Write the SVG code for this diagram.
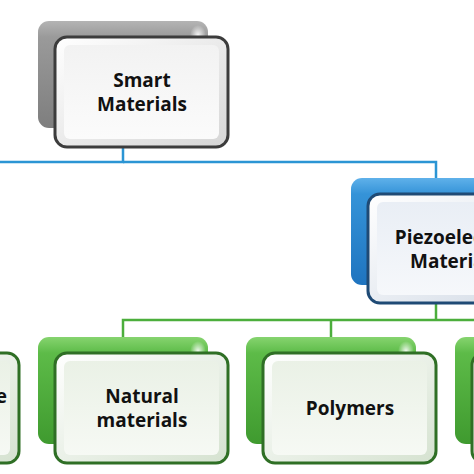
<svg xmlns="http://www.w3.org/2000/svg" width="474" height="474" viewBox="0 0 474 474">
<defs>
<linearGradient id="gGray" x1="0" y1="0" x2="0" y2="1"><stop offset="0" stop-color="#b4b4b4"/><stop offset="0.15" stop-color="#9a9a9a"/><stop offset="1" stop-color="#7e7e7e"/></linearGradient>
<linearGradient id="gBlue" x1="0" y1="0" x2="0" y2="1"><stop offset="0" stop-color="#5fb1ea"/><stop offset="0.15" stop-color="#3593d8"/><stop offset="1" stop-color="#1f74bf"/></linearGradient>
<linearGradient id="gGreen" x1="0" y1="0" x2="0" y2="1"><stop offset="0" stop-color="#86d46f"/><stop offset="0.15" stop-color="#5dbb48"/><stop offset="1" stop-color="#3f9a2f"/></linearGradient>
<linearGradient id="fGray" x1="0" y1="0" x2="1" y2="1"><stop offset="0" stop-color="#ffffff"/><stop offset="1" stop-color="#d6d6d6"/></linearGradient>
<linearGradient id="fBlue" x1="0" y1="0" x2="1" y2="1"><stop offset="0" stop-color="#ffffff"/><stop offset="1" stop-color="#d3dbe6"/></linearGradient>
<linearGradient id="fGreen" x1="0" y1="0" x2="1" y2="1"><stop offset="0" stop-color="#ffffff"/><stop offset="1" stop-color="#d5e2d0"/></linearGradient>
<linearGradient id="iGray" x1="0" y1="0" x2="0" y2="1"><stop offset="0" stop-color="#f2f2f2"/><stop offset="1" stop-color="#fbfbfb"/></linearGradient>
<linearGradient id="iBlue" x1="0" y1="0" x2="0" y2="1"><stop offset="0" stop-color="#e9eef5"/><stop offset="1" stop-color="#f6f8fb"/></linearGradient>
<linearGradient id="iGreen" x1="0" y1="0" x2="0" y2="1"><stop offset="0" stop-color="#eaf1e6"/><stop offset="1" stop-color="#f6f9f4"/></linearGradient>
<radialGradient id="glint" cx="0.5" cy="0.5" r="0.5"><stop offset="0" stop-color="#ffffff" stop-opacity="0.9"/><stop offset="1" stop-color="#ffffff" stop-opacity="0"/></radialGradient>
</defs>
<style>
.back{stroke:none}
.front{stroke-width:3}
.lbl{font-family:"Open Sans","Liberation Sans",sans-serif;font-weight:bold;font-size:19px;fill:#111;text-anchor:middle}
.blue{stroke:#2b95d4;stroke-width:2.5;fill:none}
.green{stroke:#4cae3c;stroke-width:2.5;fill:none}
</style>
<g id="connectors">
<polyline class="blue" points="123,147 123,162 0,162"/>
<polyline class="blue" points="123,162 436,162 436,179"/>
<polyline class="green" points="436,302 436,320"/>
<polyline class="green" points="123,338 123,320 474,320"/>
<polyline class="green" points="331,320 331,338"/>
</g>
<g id="node-smart" transform="translate(38,21)">
<rect class="back" x="0" y="0" width="170" height="107" rx="11" fill="url(#gGray)"/>
<ellipse cx="160" cy="14" rx="8" ry="10" fill="url(#glint)"/>
<rect class="front" x="17" y="16" width="173" height="110" rx="12" fill="url(#fGray)" stroke="#3c3c3c"/>
<rect x="26" y="24" width="155" height="94" rx="6" fill="url(#iGray)"/>
<text class="lbl" x="104" y="66">Smart</text>
<text class="lbl" x="104" y="90">Materials</text>
</g>
<g id="node-piezo" transform="translate(351,178)">
<rect class="back" x="0" y="0" width="170" height="107" rx="11" fill="url(#gBlue)"/>
<rect class="front" x="17" y="16" width="173" height="109" rx="12" fill="url(#fBlue)" stroke="#1f4a75"/>
<rect x="26" y="24" width="155" height="93" rx="6" fill="url(#iBlue)"/>
<text class="lbl" x="104" y="66">Piezoelectric</text>
<text class="lbl" x="104" y="90">Materials</text>
</g>
<g id="node-left" transform="translate(-171,337)">
<rect class="back" x="0" y="0" width="170" height="107" rx="11" fill="url(#gGreen)"/>
<rect class="front" x="17" y="16" width="173" height="110" rx="12" fill="url(#fGreen)" stroke="#2f6f25"/>
<rect x="26" y="24" width="155" height="94" rx="6" fill="url(#iGreen)"/>
<text class="lbl" x="178" y="66" style="text-anchor:end">e</text>
</g>
<g id="node-natural" transform="translate(38,337)">
<rect class="back" x="0" y="0" width="170" height="107" rx="11" fill="url(#gGreen)"/>
<ellipse cx="160" cy="14" rx="8" ry="10" fill="url(#glint)"/>
<rect class="front" x="17" y="16" width="173" height="110" rx="12" fill="url(#fGreen)" stroke="#2f6f25"/>
<rect x="26" y="24" width="155" height="94" rx="6" fill="url(#iGreen)"/>
<text class="lbl" x="104" y="66">Natural</text>
<text class="lbl" x="104" y="90">materials</text>
</g>
<g id="node-polymers" transform="translate(246,337)">
<rect class="back" x="0" y="0" width="170" height="107" rx="11" fill="url(#gGreen)"/>
<ellipse cx="160" cy="14" rx="8" ry="10" fill="url(#glint)"/>
<rect class="front" x="17" y="16" width="173" height="110" rx="12" fill="url(#fGreen)" stroke="#2f6f25"/>
<rect x="26" y="24" width="155" height="94" rx="6" fill="url(#iGreen)"/>
<text class="lbl" x="104" y="78">Polymers</text>
</g>
<g id="node-right" transform="translate(455,337)">
<rect class="back" x="0" y="0" width="170" height="107" rx="11" fill="url(#gGreen)"/>
<rect class="front" x="17" y="16" width="173" height="110" rx="12" fill="url(#fGreen)" stroke="#2f6f25"/>
</g>
</svg>
